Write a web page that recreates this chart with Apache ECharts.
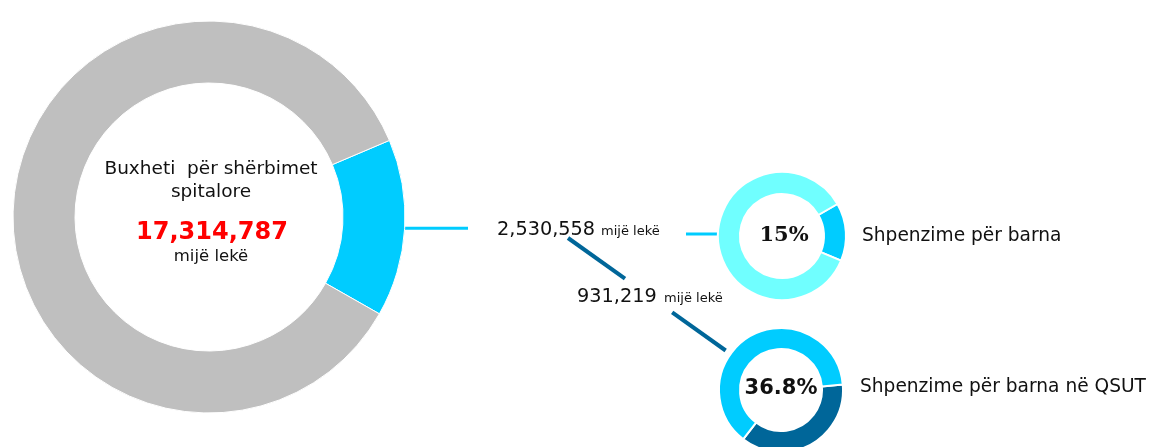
<!DOCTYPE html>
<html>
<head>
<meta charset="utf-8">
<title>Buxheti për shërbimet spitalore</title>
<script src="https://cdn.jsdelivr.net/npm/echarts@6/dist/echarts.min.js"></script>
<style>
  html, body { margin: 0; padding: 0; background: #ffffff; }
  #chart { width: 1153px; height: 447px; }
</style>
</head>
<body>
<div id="chart"></div>
<script>
// Budget figures, in thousand lek
const budgetTotal = 17314787;     // hospital services budget
const drugSpending = 2530558;     // spent on medicines
const qsutDrugSpending = 931219;  // medicines spent at QSUT

const centerTitle = ['Buxheti  për shërbimet', 'spitalore'];
const unitLabel = 'mijë lekë';
const ringNames = ['Shpenzime për barna', 'Shpenzime për barna në QSUT'];

const colors = {
  gray: '#bfbfbf',
  cyan: '#00ccff',
  light: '#70ffff',
  dark: '#006699',
  red: '#ff0000',
  text: '#111111'
};

// ring geometry
const bigRing = { center: [209, 217], radius: [134, 196], start: 23 };
const drugRing = { center: [782, 236], radius: [42, 64], start: 30 };
const qsutRing = { center: [781, 390], radius: [41, 62], start: 5 };

const fmt = v => v.toLocaleString('en-US');
const sans = 'DejaVu Sans';

const chart = echarts.init(document.getElementById('chart'), null, { renderer: 'canvas' });

function ring(cfg, items, borderWidth, centerText) {
  return {
    type: 'pie',
    center: cfg.center,
    radius: cfg.radius,
    startAngle: cfg.start,
    clockwise: true,
    silent: true,
    avoidLabelOverlap: false,
    labelLine: { show: false },
    itemStyle: { borderColor: '#ffffff', borderWidth: borderWidth },
    data: items.map((it, i) => ({
      value: it.value,
      itemStyle: { color: it.color },
      label: (i === 0 && centerText) ? Object.assign({ show: true, position: 'center' }, centerText) : { show: false }
    }))
  };
}

const drugShare = drugSpending / budgetTotal * 100;
const qsutShare = qsutDrugSpending / drugSpending * 100;

// connector geometry derived from the ring layout
const midAngle = (bigRing.start - drugSpending / budgetTotal * 180) * Math.PI / 180;
const lineY = bigRing.center[1] - bigRing.radius[1] * Math.sin(midAngle);
const lineX0 = bigRing.center[0] + bigRing.radius[1] * Math.cos(midAngle);

const darkStart = [568, 238];
const dirX = qsutRing.center[0] - darkStart[0];
const dirY = qsutRing.center[1] - darkStart[1];
const dirLen = Math.sqrt(dirX * dirX + dirY * dirY);
const ux = dirX / dirLen, uy = dirY / dirLen;
const darkTotal = dirLen - qsutRing.radius[1] - 6;
const at = d => [darkStart[0] + ux * d, darkStart[1] + uy * d];

chart.setOption({
  animation: false,
  backgroundColor: '#ffffff',
  series: [
    ring(bigRing, [
      { value: drugSpending, color: colors.cyan },
      { value: budgetTotal - drugSpending, color: colors.gray }
    ], 1, null),
    ring(drugRing, [
      { value: drugSpending, color: colors.cyan },
      { value: budgetTotal - drugSpending, color: colors.light }
    ], 2, {
      formatter: () => Math.round(drugShare) + '%',
      fontFamily: 'DejaVu Serif',
      fontWeight: 'bold',
      fontSize: 21,
      color: colors.text,
      offset: [2, 0]
    }),
    ring(qsutRing, [
      { value: qsutDrugSpending, color: colors.dark },
      { value: drugSpending - qsutDrugSpending, color: colors.cyan }
    ], 2, {
      formatter: () => qsutShare.toFixed(1) + '%',
      fontFamily: sans,
      fontWeight: 'bold',
      fontSize: 21,
      color: colors.text,
      offset: [0, -1]
    })
  ],
  graphic: [
    // connectors
    { type: 'line', silent: true, shape: { x1: lineX0, y1: lineY, x2: 468, y2: lineY },
      style: { stroke: colors.cyan, lineWidth: 3 } },
    { type: 'line', silent: true, shape: { x1: 686, y1: 234, x2: drugRing.center[0] - drugRing.radius[1], y2: 234 },
      style: { stroke: colors.cyan, lineWidth: 3 } },
    { type: 'line', silent: true, shape: { x1: at(0)[0], y1: at(0)[1], x2: at(70)[0], y2: at(70)[1] },
      style: { stroke: colors.dark, lineWidth: 4 } },
    { type: 'line', silent: true, shape: { x1: at(128)[0], y1: at(128)[1], x2: at(darkTotal)[0], y2: at(darkTotal)[1] },
      style: { stroke: colors.dark, lineWidth: 4 } },

    // centre of the budget ring
    { type: 'text', silent: true, x: 211, y: 169,
      style: { text: centerTitle[0], font: '18.5px "DejaVu Sans"', fill: colors.text, align: 'center', verticalAlign: 'middle' } },
    { type: 'text', silent: true, x: 211, y: 192,
      style: { text: centerTitle[1], font: '18.5px "DejaVu Sans"', fill: colors.text, align: 'center', verticalAlign: 'middle' } },
    { type: 'text', silent: true, x: 212, y: 233,
      style: { text: fmt(budgetTotal), font: 'bold 24px "DejaVu Sans"', fill: colors.red, align: 'center', verticalAlign: 'middle' } },
    { type: 'text', silent: true, x: 211, y: 257,
      style: { text: unitLabel, font: '16.5px "DejaVu Sans"', fill: colors.text, align: 'center', verticalAlign: 'middle' } },

    // amounts on the connectors
    { type: 'text', silent: true, x: 497, y: 229.5,
      style: { text: fmt(drugSpending), font: '19.3px "DejaVu Sans"', fill: colors.text, align: 'left', verticalAlign: 'middle' } },
    { type: 'text', silent: true, x: 601, y: 232,
      style: { text: unitLabel, font: '13px "DejaVu Sans"', fill: colors.text, align: 'left', verticalAlign: 'middle' } },
    { type: 'text', silent: true, x: 577, y: 296.5,
      style: { text: fmt(qsutDrugSpending), font: '19.3px "DejaVu Sans"', fill: colors.text, align: 'left', verticalAlign: 'middle' } },
    { type: 'text', silent: true, x: 664, y: 299,
      style: { text: unitLabel, font: '13px "DejaVu Sans"', fill: colors.text, align: 'left', verticalAlign: 'middle' } },

    // ring names
    { type: 'text', silent: true, x: 862, y: 236,
      style: { text: ringNames[0], font: '18.6px "DejaVu Sans"', fill: colors.text, align: 'left', verticalAlign: 'middle' } },
    { type: 'text', silent: true, x: 860, y: 387,
      style: { text: ringNames[1], font: '18.6px "DejaVu Sans"', fill: colors.text, align: 'left', verticalAlign: 'middle' } }
  ]
});
</script>
</body>
</html>
